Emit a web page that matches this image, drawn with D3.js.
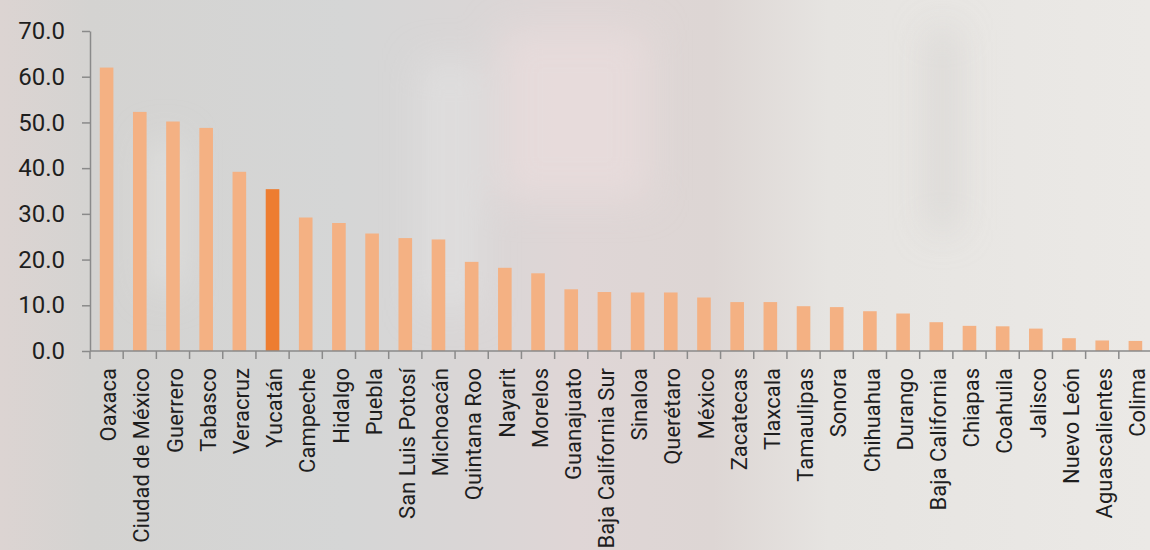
<!DOCTYPE html>
<html lang="es">
<head>
    <meta charset="UTF-8">
    <title></title>
    <script src="https://cdn.jsdelivr.net/npm/d3@7"></script>
    <style>
        body { margin: 0; }
        svg { display: block; }
    </style>
</head>
<body>

<script>
    // estados y valor por estado (Yucatán resaltado)
    var estados = ["Oaxaca", "Ciudad de México", "Guerrero", "Tabasco", "Veracruz", "Yucatán",
        "Campeche", "Hidalgo", "Puebla", "San Luis Potosí", "Michoacán", "Quintana Roo",
        "Nayarit", "Morelos", "Guanajuato", "Baja California Sur", "Sinaloa", "Querétaro",
        "México", "Zacatecas", "Tlaxcala", "Tamaulipas", "Sonora", "Chihuahua", "Durango",
        "Baja California", "Chiapas", "Coahuila", "Jalisco", "Nuevo León", "Aguascalientes", "Colima"];
    var valores = [62.0, 52.3, 50.2, 48.8, 39.2, 35.4,
        29.2, 28.0, 25.7, 24.7, 24.4, 19.5,
        18.2, 17.0, 13.5, 12.9, 12.8, 12.8,
        11.7, 10.7, 10.7, 9.8, 9.6, 8.7, 8.2,
        6.3, 5.5, 5.4, 4.9, 2.8, 2.3, 2.2];
    var yTicks = [0, 10, 20, 30, 40, 50, 60, 70];
    var resaltado = "Yucatán";

    var width = 1150,
        height = 550;

    var svg = d3.select("body").append("svg")
        .attr("width", width)
        .attr("height", height);

    // fondo (foto difuminada aproximada)
    var defs = svg.append("defs");
    var grad = defs.append("linearGradient").attr("id", "fondo");
    [[0, "#dcd4d2"], [0.08, "#d4d3d1"], [0.3, "#d5d6d6"], [0.42, "#dad6d6"],
     [0.5, "#dfd6d6"], [0.62, "#ddd6d4"], [0.72, "#e6e4e1"], [1, "#ebe9e6"]].forEach(function (s) {
        grad.append("stop").attr("offset", s[0]).attr("stop-color", s[1]);
    });
    defs.append("filter").attr("id", "blur")
        .attr("x", "-50%").attr("y", "-50%").attr("width", "200%").attr("height", "200%")
        .append("feGaussianBlur").attr("stdDeviation", 18);

    svg.append("rect").attr("width", width).attr("height", height).attr("fill", "url(#fondo)");
    var manchas = svg.append("g").attr("filter", "url(#blur)");
    manchas.append("rect").attr("x", 500).attr("y", 30).attr("width", 150).attr("height", 170)
        .attr("fill", "#e8dcdc").attr("opacity", 0.8);
    manchas.append("rect").attr("x", 930).attr("y", 30).attr("width", 25).attr("height", 200)
        .attr("fill", "#cfcdca").attr("opacity", 0.6);
    manchas.append("rect").attr("x", 420).attr("y", 60).attr("width", 60).attr("height", 250)
        .attr("fill", "#e2e3e3").attr("opacity", 0.6);
    manchas.append("rect").attr("x", 150).attr("y", 140).attr("width", 30).attr("height", 150)
        .attr("fill", "#e6e6e4").attr("opacity", 0.7);

    var x = d3.scaleBand()
        .domain(estados)
        .range([90, 1152])
        .paddingInner(0.59)
        .paddingOuter(0.295);

    var y = d3.scaleLinear()
        .domain([0, 70])
        .range([351, 31]);

    // barras
    svg.append("g").selectAll("rect")
        .data(estados)
        .enter()
        .append("rect")
        .attr("x", function (d) { return x(d); })
        .attr("y", function (d, i) { return y(valores[i]); })
        .attr("width", x.bandwidth())
        .attr("height", function (d, i) { return y(0) - y(valores[i]); })
        .attr("fill", function (d) { return d === resaltado ? "#ED7D31" : "#F4B183"; });

    // eje y
    var yAxis = svg.append("g")
        .attr("transform", "translate(90,0)")
        .call(d3.axisLeft(y).tickValues(yTicks).tickFormat(d3.format(".1f"))
            .tickSize(8).tickPadding(17).tickSizeOuter(0));
    yAxis.selectAll("text")
        .attr("font-family", "Roboto, sans-serif")
        .attr("font-size", 24)
        .attr("fill", "#1e1e1e");

    // eje x: ticks en los bordes de cada categoría
    var step = x.step();
    var bordes = d3.range(estados.length + 1).map(function (i) { return 90 + i * step; });
    var xAxis = svg.append("g");
    xAxis.append("line")
        .attr("x1", 90).attr("x2", 1152)
        .attr("y1", y(0)).attr("y2", y(0));
    xAxis.selectAll(".tick-x")
        .data(bordes)
        .enter()
        .append("line")
        .attr("class", "tick-x")
        .attr("x1", function (d) { return d; })
        .attr("x2", function (d) { return d; })
        .attr("y1", y(0))
        .attr("y2", y(0) + 8);
    xAxis.selectAll("line").attr("stroke", "#8a8a8a").attr("stroke-width", 1.5);

    svg.selectAll(".domain, .tick line").attr("stroke", "#8a8a8a").attr("stroke-width", 1.5);

    xAxis.selectAll("text")
        .data(estados)
        .enter()
        .append("text")
        .attr("transform", function (d) {
            return "translate(" + (x(d) + x.bandwidth() / 2 + 2) + "," + (y(0) + 17) + ") rotate(-90)";
        })
        .attr("dy", "0.35em")
        .attr("text-anchor", "end")
        .attr("font-family", "Roboto, sans-serif")
        .attr("font-size", 22)
        .attr("fill", "#1e1e1e")
        .text(function (d) { return d; });
</script>

</body>
</html>
